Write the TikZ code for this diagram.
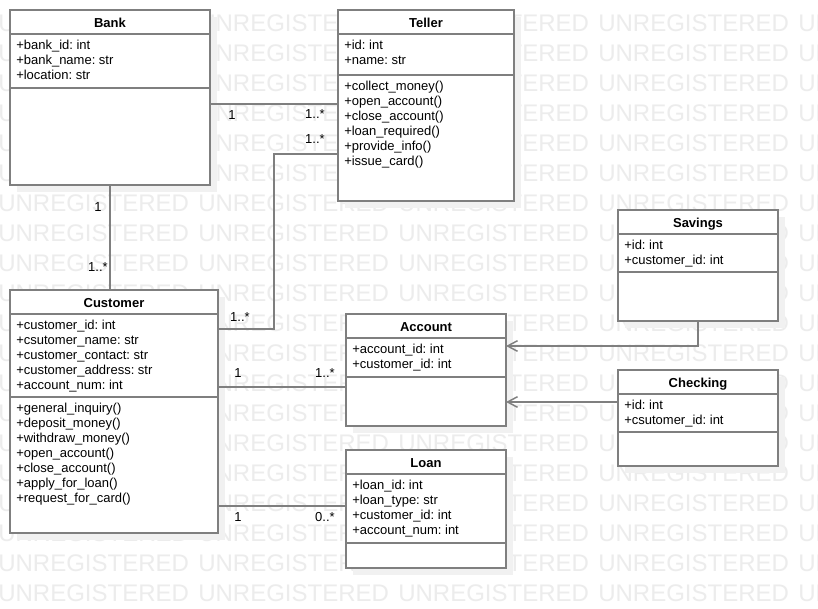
\documentclass[tikz,border=0pt]{standalone}
\usepackage{fontspec}
\setmainfont{Liberation Sans}
\usetikzlibrary{arrows.meta,calc,shadows}
\definecolor{umlgray}{HTML}{7F7F7F}
\definecolor{wmgray}{HTML}{ECECEC}
\definecolor{shadowgray}{HTML}{F1F1F1}
\frenchspacing

\tikzset{
  classbox/.style={draw=umlgray, fill=white, line width=1.1pt, anchor=north west, inner sep=0pt, outer sep=0pt,
    drop shadow={shadow xshift=5.25pt, shadow yshift=-5.25pt, opacity=1, fill=shadowgray}},
  umlline/.style={draw=umlgray, line width=1.1pt},
  classtitle/.style={anchor=base, inner sep=0pt, font=\fontsize{9.75pt}{11.25pt}\selectfont\bfseries},
  member/.style={anchor=base west, inner sep=0pt, font=\fontsize{9.75pt}{11.25pt}\selectfont},
  mult/.style={inner sep=0pt, font=\fontsize{9.75pt}{11.25pt}\selectfont},
  assoc/.style={umlline},
  gen/.style={umlline, -{Straight Barb[length=7.5pt, width=8pt]}},
  wmark/.style={anchor=base west, inner sep=0pt, text=wmgray, font=\fontsize{18pt}{20pt}\selectfont}
}

% name, x, y, width, height, attribute height, title, attributes, methods
\newcommand{\umlclass}[9]{%
  \node[classbox, minimum width=#4*0.75pt, minimum height=#5*0.75pt] (#1) at (#2,#3) {};
  \draw[umlline] ($(#1.north west)+(0,24)$) -- ($(#1.north east)+(0,24)$);
  \draw[umlline] ($(#1.north west)+(0,24+#6)$) -- ($(#1.north east)+(0,24+#6)$);
  \node[classtitle] (#1-title) at ($(#1.north)+(0,17)$) {#7};
  \foreach \txt [count=\i] in {#8}
    \node[member] (#1-a\i) at ($(#1.north west)+(6,24+15.5+15*\i-15)$) {\txt};
  \ifx\relax#9\relax\else
    \foreach \txt [count=\i] in {#9}
      \node[member] (#1-m\i) at ($(#1.north west)+(6,24+#6+15.5+15*\i-15)$) {\txt};
  \fi
}

\begin{document}
\begin{tikzpicture}[x=0.75pt, y=-0.75pt]
  \useasboundingbox (0,0) rectangle (818,608);
  \clip (0,0) rectangle (818,608);
  \fill[white] (0,0) rectangle (818,608);

  % watermark
  \foreach \r in {0,...,19}
    \foreach \c in {0,...,4}
      \node[wmark] (wm-\r-\c) at (200*\c-2, 31+30*\r) {UNREGISTERED};

  % classes
  \umlclass{bank}{10}{10}{200}{175}{54}{Bank}
    {+bank\_id: int, +bank\_name: str, +location: str}{}
  \umlclass{teller}{338}{10}{176}{191}{41}{Teller}
    {+id: int, +name: str}
    {+collect\_money(), +open\_account(), +close\_account(), +loan\_required(), +provide\_info(), +issue\_card()}
  \umlclass{customer}{10}{290}{208}{243}{83}{Customer}
    {+customer\_id: int, +csutomer\_name: str, +customer\_contact: str, +customer\_address: str, +account\_num: int}
    {+general\_inquiry(), +deposit\_money(), +withdraw\_money(), +open\_account(), +close\_account(), +apply\_for\_loan(), +request\_for\_card()}
  \umlclass{account}{346}{314}{160}{112}{39}{Account}
    {+account\_id: int, +customer\_id: int}{}
  \umlclass{loan}{346}{450}{160}{118}{69}{Loan}
    {+loan\_id: int, +loan\_type: str, +customer\_id: int, +account\_num: int}{}
  \umlclass{savings}{618}{210}{160}{111}{38}{Savings}
    {+id: int, +customer\_id: int}{}
  \umlclass{checking}{618}{370}{160}{96}{38}{Checking}
    {+id: int, +csutomer\_id: int}{}

  % associations
  \draw[assoc] ($(bank.north east)+(0,94)$) -- ($(teller.north west)+(0,94)$);
  \draw[assoc] ($(teller.north west)+(0,144)$) -| ($(customer.north east)+(56,39)$) -- ($(customer.north east)+(0,39)$);
  \draw[assoc] (bank.south) -- (bank.south |- customer.north);
  \draw[assoc] ($(customer.north east)+(0,97)$) -- ($(account.north west)+(0,73)$);
  \draw[assoc] ($(customer.north east)+(0,216)$) -- ($(loan.north west)+(0,56)$);

  % generalisations
  \draw[gen] (savings.south) |- ($(account.north east)+(0,32)$);
  \draw[gen] ($(checking.north west)+(0,32)$) -- ($(account.north east)+(0,88)$);

  % multiplicities
  \node[mult] (bt-1) at (232,115) {1};
  \node[mult] (bt-2) at (315,114) {1..*};
  \node[mult] (tc-1) at (315,139) {1..*};
  \node[mult] (tc-2) at (240,317) {1..*};
  \node[mult] (bc-1) at (98,207) {1};
  \node[mult] (bc-2) at (98,267) {1..*};
  \node[mult] (ca-1) at (238,373) {1};
  \node[mult] (ca-2) at (325,373) {1..*};
  \node[mult] (cl-1) at (238,517) {1};
  \node[mult] (cl-2) at (325,517) {0..*};
\end{tikzpicture}
\end{document}
